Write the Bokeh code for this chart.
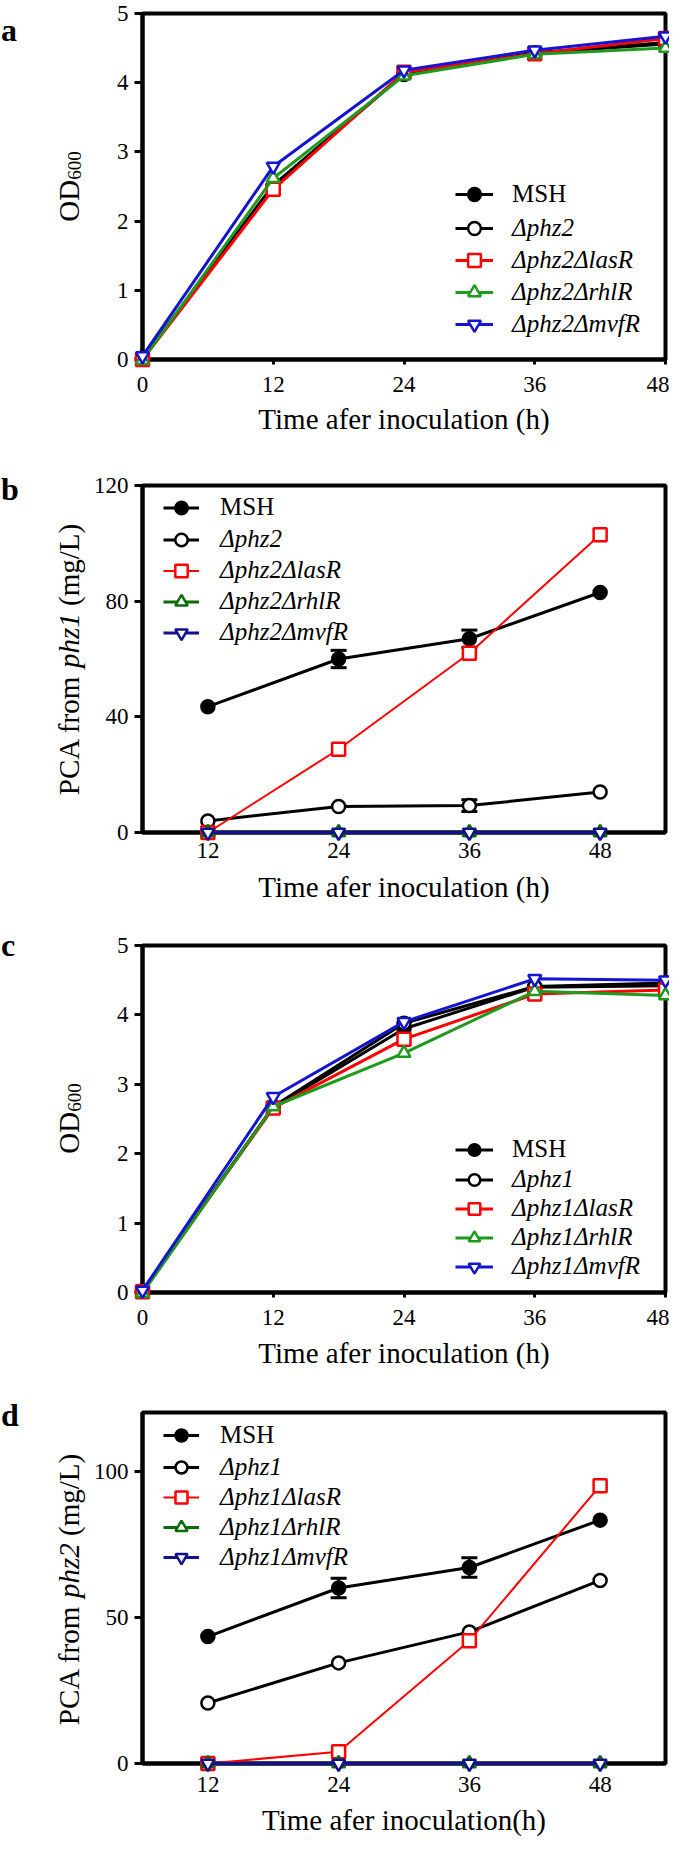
import math
from bokeh.plotting import figure
from bokeh.layouts import column, row
from bokeh.models import (Legend, LegendItem, Label, Whisker, ColumnDataSource,
                          Range1d, FixedTicker, TeeHead)
from bokeh.embed import file_html
from bokeh.resources import INLINE

FONT = "Liberation Serif"

# ---------------- data ----------------
time_ac = [0, 12, 24, 36, 48]
time_bd = [12, 24, 36, 48]

a_msh = [0.02, 2.50, 4.13, 4.43, 4.56]
a_phz2 = [0.02, 2.52, 4.12, 4.43, 4.58]
a_las = [0.00, 2.46, 4.15, 4.42, 4.64]
a_rhl = [-0.01, 2.62, 4.10, 4.41, 4.50]
a_mvf = [0.05, 2.79, 4.18, 4.47, 4.67]

b_msh = [43.5, 60.0, 67.0, 83.0]
b_msh_err = [0.0, 3.0, 3.0, 0.0]
b_phz2 = [4.0, 9.0, 9.3, 14.0]
b_phz2_err = [0.0, 0.0, 2.0, 0.0]
b_las = [0.0, 28.8, 62.0, 103.0]
b_rhl = [0.0, 0.0, 0.0, 0.0]
b_mvf = [0.0, 0.0, 0.0, 0.0]

c_msh = [0.02, 2.67, 3.80, 4.40, 4.42]
c_phz1 = [0.02, 2.68, 3.88, 4.41, 4.46]
c_las = [0.01, 2.66, 3.65, 4.30, 4.36]
c_rhl = [-0.01, 2.68, 3.45, 4.34, 4.28]
c_mvf = [0.03, 2.82, 3.90, 4.52, 4.50]

d_msh = [43.4, 60.0, 67.0, 83.2]
d_msh_err = [0.0, 3.3, 3.3, 0.0]
d_phz1 = [20.7, 34.4, 45.0, 62.6]
d_las = [0.0, 4.0, 42.0, 95.0]
d_rhl = [0.0, 0.0, 0.0, 0.0]
d_mvf = [0.0, 0.0, 0.0, 0.0]

labels_phz2 = ["MSH", "Δphz2", "Δphz2ΔlasR", "Δphz2ΔrhlR", "Δphz2ΔmvfR"]
labels_phz1 = ["MSH", "Δphz1", "Δphz1ΔlasR", "Δphz1ΔrhlR", "Δphz1ΔmvfR"]

ticks_x_ac = [0, 12, 24, 36, 48]
ticks_x_bd = [12, 24, 36, 48]
ticks_y_ac = [0, 1, 2, 3, 4, 5]
ticks_y_b = [0, 40, 80, 120]
ticks_y_d = [0, 50, 100]

xtitle_abc = "Time afer inoculation (h)"
xtitle_d = "Time afer inoculation(h)"
panel_letters = ["a", "b", "c", "d"]

# ---------------- text width helpers (Times metrics) ----------------
REG = {" ": 250, "(": 333, ")": 333, "/": 278, "A": 722, "C": 667, "L": 611, "P": 556,
       "f": 333, "g": 500, "m": 778, "o": 500, "r": 333, "O": 722, "D": 722,
       "0": 500, "1": 500, "2": 500, "6": 500}
ITA = {"p": 500, "h": 500, "z": 389, "1": 500, "2": 500}


def text_w(s, size, italic=False):
    tab = ITA if italic else REG
    return sum(tab.get(ch, 500) for ch in s) / 1000.0 * size


def styles(green, blue, red_w):
    return [
        dict(color="black", marker="circle", fill="black", lw=3),
        dict(color="black", marker="circle", fill="white", lw=3),
        dict(color="#ff0000", marker="square", fill="white", lw=red_w),
        dict(color=green, marker="triangle", fill="white", lw=3),
        dict(color=blue, marker="inverted_triangle", fill="white", lw=3),
    ]


LEFT_W = 86          # width of the side strip that holds letters / y titles
MAIN_W = 669 - LEFT_W


def make_panel(xs, series, errs, labels, st, xr, yr, xticks, yticks,
               geom, leg, xtitle, xstand, tstand):
    H, L, R, T, B = geom
    p = figure(width=MAIN_W, height=H, x_range=Range1d(*xr), y_range=Range1d(*yr),
               output_backend="svg", toolbar_location=None,
               min_border_left=L, min_border_right=R, min_border_top=T,
               min_border_bottom=B)
    p.xgrid.visible = False
    p.ygrid.visible = False
    p.outline_line_color = "black"
    p.outline_line_width = 4
    p.outline_line_alpha = 1.0
    p.background_fill_color = "white"
    p.border_fill_color = "white"

    for ax in (p.xaxis[0], p.yaxis[0]):
        ax.axis_line_width = 4
        ax.axis_line_color = "black"
        ax.major_tick_line_width = 3
        ax.major_tick_line_color = "black"
        ax.major_tick_in = 0
        ax.minor_tick_line_color = None
        ax.major_label_text_font = FONT
        ax.major_label_text_font_size = "23px"
        ax.major_label_text_color = "black"
        ax.axis_label_text_font = FONT
        ax.axis_label_text_font_size = "29px"
        ax.axis_label_text_font_style = "normal"
        ax.axis_label_text_color = "black"
    p.xaxis.ticker = FixedTicker(ticks=xticks)
    p.yaxis.ticker = FixedTicker(ticks=yticks)
    p.xaxis.major_tick_out = 5
    p.yaxis.major_tick_out = 8
    p.xaxis.major_label_standoff = xstand
    p.yaxis.major_label_standoff = 6
    p.xaxis.axis_label = xtitle
    p.xaxis.axis_label_standoff = tstand

    rends = []
    for ys, s in zip(series, st):
        ln = p.line(xs, ys, line_color=s["color"], line_width=s["lw"], level="overlay")
        sc = p.scatter(xs, ys, marker=s["marker"], size=13, line_color=s["color"],
                       fill_color=s["fill"], line_width=2.5, level="overlay")
        rends.append([ln, sc])

    for err, ys in errs:
        bx = [x for x, e in zip(xs, err) if e > 0]
        lo = [y - e for y, e in zip(ys, err) if e > 0]
        hi = [y + e for y, e in zip(ys, err) if e > 0]
        src = ColumnDataSource(dict(base=bx, lower=lo, upper=hi))
        w = Whisker(source=src, base="base", lower="lower", upper="upper",
                    line_color="black", line_width=3,
                    upper_head=TeeHead(size=16, line_width=3, line_color="black"),
                    lower_head=TeeHead(size=16, line_width=3, line_color="black"))
        p.add_layout(w)

    vx, vy1, vy2, gw, stoff, ih = leg
    common = dict(label_text_font=FONT, label_text_font_size="25px",
                  label_text_color="black", glyph_width=gw, glyph_height=ih,
                  label_height=ih, label_standoff=stoff, spacing=0, padding=0,
                  margin=0, border_line_color=None, background_fill_alpha=0.0)
    leg1 = Legend(items=[LegendItem(label=labels[0], renderers=rends[0])],
                  location=(vx, vy1), **common)
    leg2 = Legend(items=[LegendItem(label=lab, renderers=r)
                         for lab, r in zip(labels[1:], rends[1:])],
                  location=(vx, vy2), label_text_font_style="italic", **common)
    p.add_layout(leg1)
    p.add_layout(leg2)
    return p


st_ac = styles("#1f9a1f", "#1414d2", 3)
st_bd = styles("#0b6b0b", "#12128c", 2)

# main panels (page frame: a 21-367, b 493-840, c 953-1300, d 1420-1771)
pa = make_panel(time_ac, [a_msh, a_phz2, a_las, a_rhl, a_mvf], [], labels_phz2, st_ac,
                (0, 48), (0, 5), ticks_x_ac, ticks_y_ac,
                (467, 150 - 8 - LEFT_W, 4, 13, 108), (313, 149, 19, 38, 19, 32),
                xtitle_abc, 12, 8)

pb = make_panel(time_bd, [b_msh, b_phz2, b_las, b_rhl, b_mvf],
                [(b_msh_err, b_msh), (b_phz2_err, b_phz2)], labels_phz2, st_bd,
                (6, 54), (0, 120), ticks_x_bd, ticks_y_b,
                (465, 145 - 8 - LEFT_W, 3, 18, 100), (21, 309.5, 184.5, 36, 21, 31),
                xtitle_abc, 5, 10)

pc = make_panel(time_ac, [c_msh, c_phz1, c_las, c_rhl, c_mvf], [], labels_phz1, st_ac,
                (0, 48), (0, 5), ticks_x_ac, ticks_y_ac,
                (465, 150 - 8 - LEFT_W, 4, 13, 105), (313, 128.5, 11.5, 38, 19, 29),
                xtitle_abc, 12, 9)

pd_ = make_panel(time_bd, [d_msh, d_phz1, d_las, d_rhl, d_mvf],
                 [(d_msh_err, d_msh)], labels_phz1, st_bd,
                 (6, 54), (0, 120), ticks_x_bd, ticks_y_d,
                 (446, 145 - 8 - LEFT_W, 3, 15, 80), (21, 313, 191, 36, 21, 30),
                 xtitle_d, 8, 9)

# ---------------- side strip with panel letters and y-axis titles ----------------
SIDE_H = 467 + 465 + 465 + 446
side = figure(width=LEFT_W, height=SIDE_H, x_range=Range1d(0, LEFT_W),
              y_range=Range1d(0, SIDE_H), output_backend="svg", toolbar_location=None,
              x_axis_type=None, y_axis_type=None, min_border=0,
              min_border_left=0, min_border_right=0, min_border_top=0, min_border_bottom=0)
side.outline_line_color = None
side.background_fill_color = "white"
side.border_fill_color = "white"


def page_to_local_y(py):
    return SIDE_H - (py - 8)


letter_baselines = [37, 496, 952, 1422]
for let, by in zip(panel_letters, letter_baselines):
    side.add_layout(Label(x=0.5, y=page_to_local_y(by), text=let, text_font=FONT,
                          text_font_size="32px", text_font_style="bold",
                          text_baseline="alphabetic", text_align="left",
                          text_color="black"))

# segments: (text, size, italic, baseline shift, gap before)
od_segs = [("OD", 29, False, 0, 0), ("600", 19, False, 6, 0)]
pca1_segs = [("PCA from", 29, False, 0, 0), ("phz1", 29, True, 0, text_w(" ", 29)),
             ("(mg/L)", 29, False, 0, text_w(" ", 29))]
pca2_segs = [("PCA from", 29, False, 0, 0), ("phz2", 29, True, 0, text_w(" ", 29)),
             ("(mg/L)", 29, False, 0, text_w(" ", 29))]
ytitles = [(od_segs, 194), (pca1_segs, 667), (od_segs, 1126), (pca2_segs, 1597)]
BASE_X = 76 - 8
for segs, cy in ytitles:
    total = sum(text_w(t, sz, it) + gap for t, sz, it, sh, gap in segs)
    start = cy + total / 2.0
    for t, sz, it, sh, gap in segs:
        start -= gap
        side.add_layout(Label(x=BASE_X + sh, y=page_to_local_y(start), text=t,
                              angle=math.pi / 2, text_align="left",
                              text_baseline="alphabetic", text_font=FONT,
                              text_font_size=f"{sz}px",
                              text_font_style="italic" if it else "normal",
                              text_color="black"))
        start -= text_w(t, sz, it)

layout = row(side, column(pa, pb, pc, pd_, spacing=0), spacing=0)
open("out.html", "w").write(file_html(layout, INLINE))
